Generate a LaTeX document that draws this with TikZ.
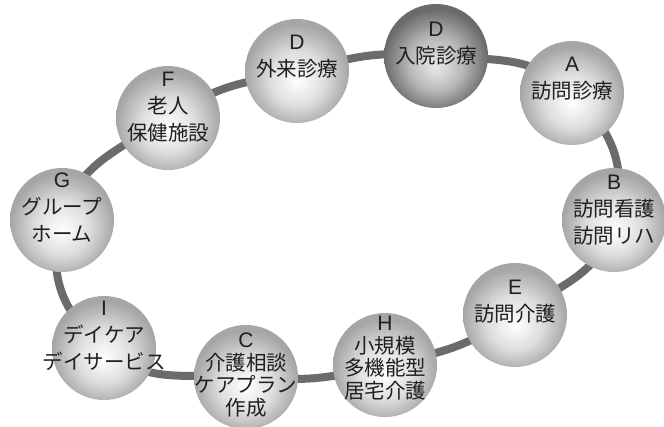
\documentclass[tikz,border=0pt]{standalone}
\usepackage{fontspec}
\setmainfont{Noto Sans CJK JP}
\newfontfamily\latinsans{Liberation Sans}
\pgfdeclareradialshading{litesphere}{\pgfpoint{0bp}{-5bp}}{color(0bp)=(white); color(4bp)=(black!4); color(13bp)=(black!13); color(25bp)=(black!35); color(50bp)=(black!35)}
\pgfdeclareradialshading{darksphere}{\pgfpoint{0bp}{-5bp}}{color(0bp)=(black!10); color(4bp)=(black!14); color(13bp)=(black!28); color(25bp)=(black!58); color(50bp)=(black!58)}
\pgfdeclarelayer{bg}
\pgfsetlayers{bg,main}
\newcommand{\ltr}[1]{{\latinsans\fontsize{21}{21}\selectfont #1}}
\tikzset{
  ball/.style={circle, minimum size=104pt, inner sep=0pt, shade, shading=litesphere},
  darkball/.style={ball, shading=darksphere},
  lbl/.style={align=center, text=black!88, inner sep=0pt, font=\fontsize{20.5}{27}\selectfont},
  lbltight/.style={lbl, font=\fontsize{20.5}{22.5}\selectfont},
  link/.style={line width=8pt, draw=black!58}
}
\begin{document}
\begin{tikzpicture}[x=1pt,y=-1pt]
\useasboundingbox (0,0) rectangle (664,426);
\node[ball]     (dOut) at (297,71)  {};
\node[darkball] (dIn)  at (436,56)  {};
\node[ball]     (dA)   at (572,93)  {};
\node[ball]     (dB)   at (614,220) {};
\node[ball]     (dE)   at (515,315) {};
\node[ball]     (dH)   at (385,365) {};
\node[ball]     (dC)   at (246,377) {};
\node[ball]     (dI)   at (104,348) {};
\node[ball]     (dG)   at (62,220)  {};
\node[ball]     (dF)   at (168,118) {};
\begin{pgfonlayer}{bg}
\draw[link] plot[smooth cycle, tension=0.85] coordinates {(dOut.center) (dIn.center) (dA.center) (dB.center) (dE.center) (dH.center) (dC.center) (dI.center) (dG.center) (dF.center)};
\end{pgfonlayer}
\node[lbl] (tOut) at (297,57)  {\ltr{D}\\外来診療};
\node[lbl] (tIn)  at (436,44)  {\ltr{D}\\入院診療};
\node[lbl] (tA)   at (572,79)  {\ltr{A}\\訪問診療};
\node[lbl] (tB)   at (614,210) {\ltr{B}\\訪問看護\\訪問リハ};
\node[lbl] (tE)   at (515,302) {\ltr{E}\\訪問介護};
\node[lbltight] (tH) at (385,358) {\ltr{H}\\小規模\\多機能型\\居宅介護};
\node[lbltight] (tC) at (246,375) {\ltr{C}\\介護相談\\ケアプラン\\作成};
\node[lbl] (tI)   at (104,336) {\ltr{I}\\デイケア\\デイサービス};
\node[lbl] (tG)   at (62,208)  {\ltr{G}\\グループ\\ホーム};
\node[lbl] (tF)   at (168,107) {\ltr{F}\\老人\\保健施設};
\end{tikzpicture}
\end{document}
